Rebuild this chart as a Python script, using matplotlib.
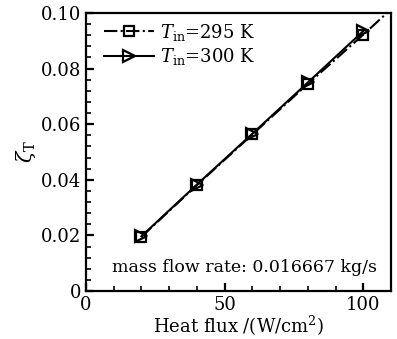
import numpy as np
import matplotlib
matplotlib.use('Agg')
import matplotlib.pyplot as plt
from matplotlib.ticker import MultipleLocator

plt.rcParams['font.family'] = 'DejaVu Serif'
plt.rcParams['mathtext.fontset'] = 'dejavuserif'

# data
flux_295 = [20, 40, 60, 80, 100, 120]
zeta_295 = [0.0195, 0.0381, 0.0563, 0.0745, 0.0922, 0.1105]
flux_300 = [20, 40, 60, 80, 100]
zeta_300 = [0.0197, 0.0383, 0.0566, 0.0750, 0.0935]

fig = plt.figure(figsize=(3.97, 3.39), dpi=100)
ax = fig.add_axes([0.2166, 0.1416, 0.7684, 0.8201])

ax.plot(flux_295, zeta_295, color='black', ls='-.', lw=1.5, marker='s', ms=7,
        mfc='none', mew=1.6, label=r'$T_{\rm in}$=295 K')
ax.plot(flux_300, zeta_300, color='black', ls='-', lw=1.5, marker='>', ms=8,
        mfc='none', mew=1.6, label=r'$T_{\rm in}$=300 K')

ax.set_xlim(0, 110)
ax.set_ylim(0, 0.10)
ax.xaxis.set_major_locator(MultipleLocator(50))
ax.xaxis.set_minor_locator(MultipleLocator(10))
ax.yaxis.set_major_locator(MultipleLocator(0.02))
ax.yaxis.set_minor_locator(MultipleLocator(0.004))
ax.set_yticks([0, 0.02, 0.04, 0.06, 0.08, 0.10])
ax.set_yticklabels(['0', '0.02', '0.04', '0.06', '0.08', '0.10'])

ax.tick_params(which='both', direction='in', labelsize=13, top=False, right=False, width=1.2)
ax.tick_params(which='major', length=6, width=1.6)
ax.tick_params(which='minor', length=3.5)
for s in ax.spines.values():
    s.set_linewidth(1.6)

ax.set_xlabel('Heat flux /(W/cm$^2$)', fontsize=13, labelpad=0)
ax.set_ylabel(r'$\zeta_{\rm T}$', fontsize=15, labelpad=2)

ax.text(0.955, 0.085, 'mass flow rate: 0.016667 kg/s', transform=ax.transAxes,
        ha='right', va='center', fontsize=12.5)

ax.legend(loc='upper left', bbox_to_anchor=(0.035, 0.995), frameon=False,
          fontsize=13, handlelength=2.8, handletextpad=0.3, borderaxespad=0.0,
          labelspacing=0.2)

fig.savefig('out.png', dpi=100)
